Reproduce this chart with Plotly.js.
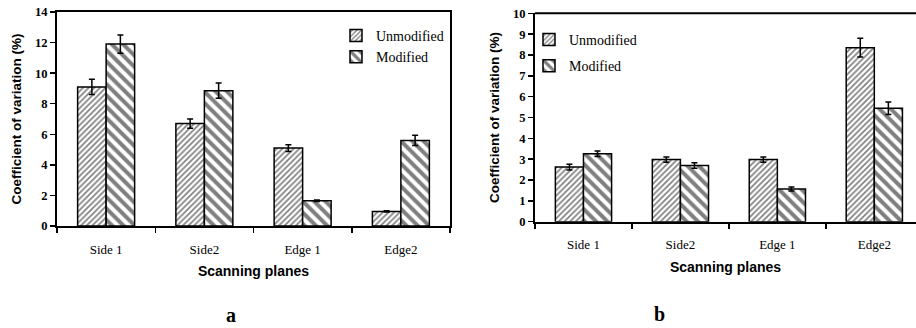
<!DOCTYPE html>
<html>
<head>
<meta charset="utf-8">
<script src="https://cdn.plot.ly/plotly-3.0.1.min.js"></script>
<style>html,body{margin:0;padding:0;background:#fff;}#chart{width:916px;height:328px;}</style>
</head>
<body>
<div id="chart"></div>
<script>
// ---- data ----
const categories = ['Side 1', 'Side2', 'Edge 1', 'Edge2'];
const seriesNames = ['Unmodified', 'Modified'];
// panel a
const aUnmodified = [9.1, 6.7, 5.1, 0.95];
const aUnmodifiedErr = [0.5, 0.3, 0.22, 0.04];
const aModified = [11.9, 8.85, 1.65, 5.6];
const aModifiedErr = [0.6, 0.5, 0.05, 0.33];
// panel b
const bUnmodified = [2.62, 2.98, 2.98, 8.35];
const bUnmodifiedErr = [0.14, 0.13, 0.13, 0.45];
const bModified = [3.26, 2.7, 1.57, 5.44];
const bModifiedErr = [0.13, 0.13, 0.1, 0.3];
const yTicksA = [0, 2, 4, 6, 8, 10, 12, 14];
const yTicksB = [0, 1, 2, 3, 4, 5, 6, 7, 8, 9, 10];
const panelLabels = ['a', 'b'];
const xTitle = 'Scanning planes';
const yTitle = 'Coefficient of variation (%)';

// ---- styles ----
const W = 916, H = 328;
const serif = 'Liberation Serif, Times New Roman, serif';
const sans = 'Liberation Sans, Arial, sans-serif';
const unmodStyle = {color: '#ffffff', line: {color: '#000', width: 1.5},
  pattern: {shape: '/', size: 4, solidity: 0.42, fgcolor: '#000', bgcolor: '#fff', fillmode: 'overlay'}};
const modStyle = {color: '#ffffff', line: {color: '#000', width: 1.5},
  pattern: {shape: '\\', size: 8, solidity: 0.5, fgcolor: '#000', bgcolor: '#fff', fillmode: 'overlay'}};
const errStyle = (arr) => ({type: 'data', array: arr, visible: true, color: '#000', thickness: 1.5, width: 3});

function bar(name, y, err, style, xa, ya, legend, group) {
  return {type: 'bar', name: name, x: categories, y: y, error_y: errStyle(err),
    marker: style, xaxis: xa, yaxis: ya, legend: legend, legendgroup: group,
    hoverinfo: 'skip'};
}

const data = [
  bar(seriesNames[0], aUnmodified, aUnmodifiedErr, unmodStyle, 'x', 'y', 'legend', 'a0'),
  bar(seriesNames[1], aModified, aModifiedErr, modStyle, 'x', 'y', 'legend', 'a1'),
  bar(seriesNames[0], bUnmodified, bUnmodifiedErr, unmodStyle, 'x2', 'y2', 'legend2', 'b0'),
  bar(seriesNames[1], bModified, bModifiedErr, modStyle, 'x2', 'y2', 'legend2', 'b1'),
];

const px = v => v / W;
const py = v => 1 - v / H;

const xBase = {
  type: 'category', showgrid: false, zeroline: false,
  showline: true, linecolor: '#000', linewidth: 2,
  ticks: 'outside', tickson: 'boundaries', ticklen: 5, tickwidth: 1.5, tickcolor: '#000',
  tickfont: {family: serif, size: 13, color: '#000'},
  ticklabelstandoff: 10,
  title: {text: '<b>' + xTitle + '</b>', font: {family: sans, size: 14, color: '#000'}, standoff: 11},
  fixedrange: true
};
const yBase = {
  showgrid: false, zeroline: false,
  showline: true, linecolor: '#000', linewidth: 2,
  ticks: 'outside', ticklen: 5, tickwidth: 1.5, tickcolor: '#000',
  tickfont: {family: serif, size: 12.5, color: '#000'},
  title: {text: '<b>' + yTitle + '</b>', font: {family: sans, size: 13.5, color: '#000'}, standoff: 10},
  fixedrange: true
};

const layout = {
  width: W, height: H,
  margin: {l: 0, r: 0, t: 0, b: 0},
  paper_bgcolor: '#fff', plot_bgcolor: '#fff',
  barmode: 'group', bargap: 0.42, bargroupgap: 0,
  xaxis: Object.assign({}, xBase, {domain: [px(57), px(450)], anchor: 'y', mirror: true, range: [-0.5, 3.5]}),
  yaxis: Object.assign({}, yBase, {domain: [py(226), py(12)], anchor: 'x', mirror: true, range: [0, 14], tickvals: yTicksA,
    ticktext: yTicksA.map(v => '<b>' + v + '</b>')}),
  xaxis2: Object.assign({}, xBase, {domain: [px(535), 1], anchor: 'y2', range: [-0.5, 3.43]}),
  yaxis2: Object.assign({}, yBase, {domain: [py(221.7), py(13.3)], anchor: 'x2', range: [0, 10], tickvals: yTicksB,
    ticktext: yTicksB.map(v => '<b>' + v + '</b>')}),
  legend: {x: px(336), y: py(20), xanchor: 'left', yanchor: 'top', bgcolor: 'rgba(0,0,0,0)',
    font: {family: serif, size: 14, color: '#000'}, itemwidth: 30, traceorder: 'normal'},
  legend2: {x: px(529), y: py(24), xanchor: 'left', yanchor: 'top', bgcolor: 'rgba(0,0,0,0)',
    font: {family: serif, size: 14, color: '#000'}, itemwidth: 30, traceorder: 'grouped', tracegroupgap: 5},
  shapes: [
    {type: 'line', xref: 'x2 domain', yref: 'y2 domain', x0: 0, x1: 1, y0: 1, y1: 1,
     line: {color: '#000', width: 2}}
  ],
  annotations: [
    {text: '<b>' + panelLabels[0] + '</b>', xref: 'paper', yref: 'paper', x: px(231), y: py(315),
     xanchor: 'center', yanchor: 'middle',
     showarrow: false, font: {family: serif, size: 20, color: '#000'}},
    {text: '<b>' + panelLabels[1] + '</b>', xref: 'paper', yref: 'paper', x: px(659), y: py(314),
     xanchor: 'center', yanchor: 'middle',
     showarrow: false, font: {family: serif, size: 20, color: '#000'}}
  ]
};

Plotly.newPlot('chart', data, layout, {displayModeBar: false, staticPlot: true});
</script>
</body>
</html>
